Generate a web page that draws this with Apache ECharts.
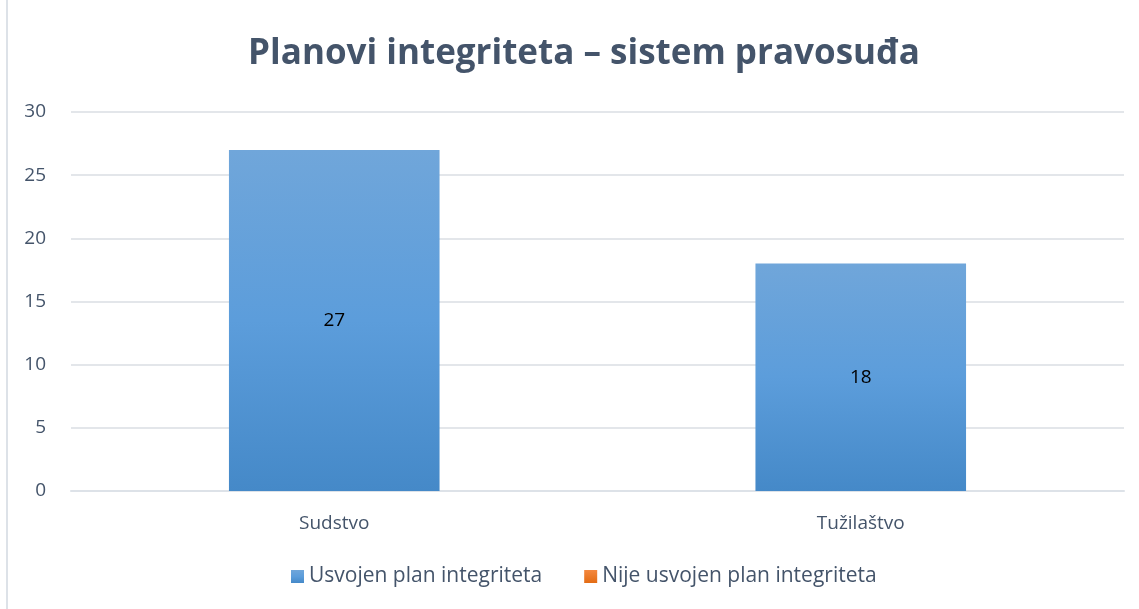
<!DOCTYPE html>
<html>
<head>
<meta charset="utf-8">
<script src="https://cdn.jsdelivr.net/npm/echarts@6/dist/echarts.min.js"></script>
<style>
    html, body { margin: 0; padding: 0; background: #fff; }
    #chart { width: 1139px; height: 609px; }
    #frame { position: absolute; left: 6px; top: 0; width: 2px; height: 609px; background: #dde2e8; }
</style>
</head>
<body>
<div id="frame"></div>
<div id="chart"></div>
<script>
const categories = ['Sudstvo', 'Tužilaštvo'];
const seriesNames = ['Usvojen plan integriteta', 'Nije usvojen plan integriteta'];
const adopted = [27, 18];
const notAdopted = [0, 0];

const textColor = '#44546A';
const font = 'Open Sans';

const chart = echarts.init(document.getElementById('chart'));

chart.setOption({
    animation: false,
    title: {
        text: 'Planovi integriteta – sistem pravosuđa',
        left: 579,
        textAlign: 'center',
        top: 32,
        textStyle: {
            color: textColor,
            fontFamily: font,
            fontWeight: 'bold',
            fontSize: 35
        }
    },
    legend: {
        data: seriesNames,
        bottom: 17,
        left: 286,
        itemWidth: 13,
        itemHeight: 13,
        itemGap: 42,
        icon: 'rect',
        textStyle: { color: textColor, fontFamily: font, fontSize: 21 }
    },
    grid: {
        left: 71,
        right: 15,
        top: 112,
        bottom: 118
    },
    xAxis: {
        type: 'category',
        data: categories,
        axisLine: { lineStyle: { color: '#dde2e8', width: 2 } },
        axisTick: { show: false },
        axisLabel: { color: textColor, fontFamily: font, fontSize: 19, margin: 23 }
    },
    yAxis: {
        type: 'value',
        min: 0,
        max: 30,
        interval: 5,
        axisLine: { show: false },
        axisTick: { show: false },
        splitLine: { lineStyle: { color: '#e3e6ea', width: 2 } },
        axisLabel: { color: textColor, fontFamily: font, fontSize: 19, margin: 25 }
    },
    series: [
        {
            name: seriesNames[0],
            type: 'bar',
            stack: 'total',
            barWidth: '40%',
            data: adopted,
            itemStyle: {
                color: new echarts.graphic.LinearGradient(0, 0, 0, 1, [
                    { offset: 0, color: '#70A6DA' },
                    { offset: 0.5, color: '#5C9DDB' },
                    { offset: 1, color: '#4589C8' }
                ])
            },
            label: {
                show: true,
                position: 'inside',
                color: '#000',
                fontFamily: font,
                fontSize: 19
            }
        },
        {
            name: seriesNames[1],
            type: 'bar',
            stack: 'total',
            data: notAdopted,
            itemStyle: {
                color: new echarts.graphic.LinearGradient(0, 0, 0, 1, [
                    { offset: 0, color: '#F4883F' },
                    { offset: 1, color: '#E36C14' }
                ])
            },
            label: { show: false }
        }
    ]
});
</script>
</body>
</html>
